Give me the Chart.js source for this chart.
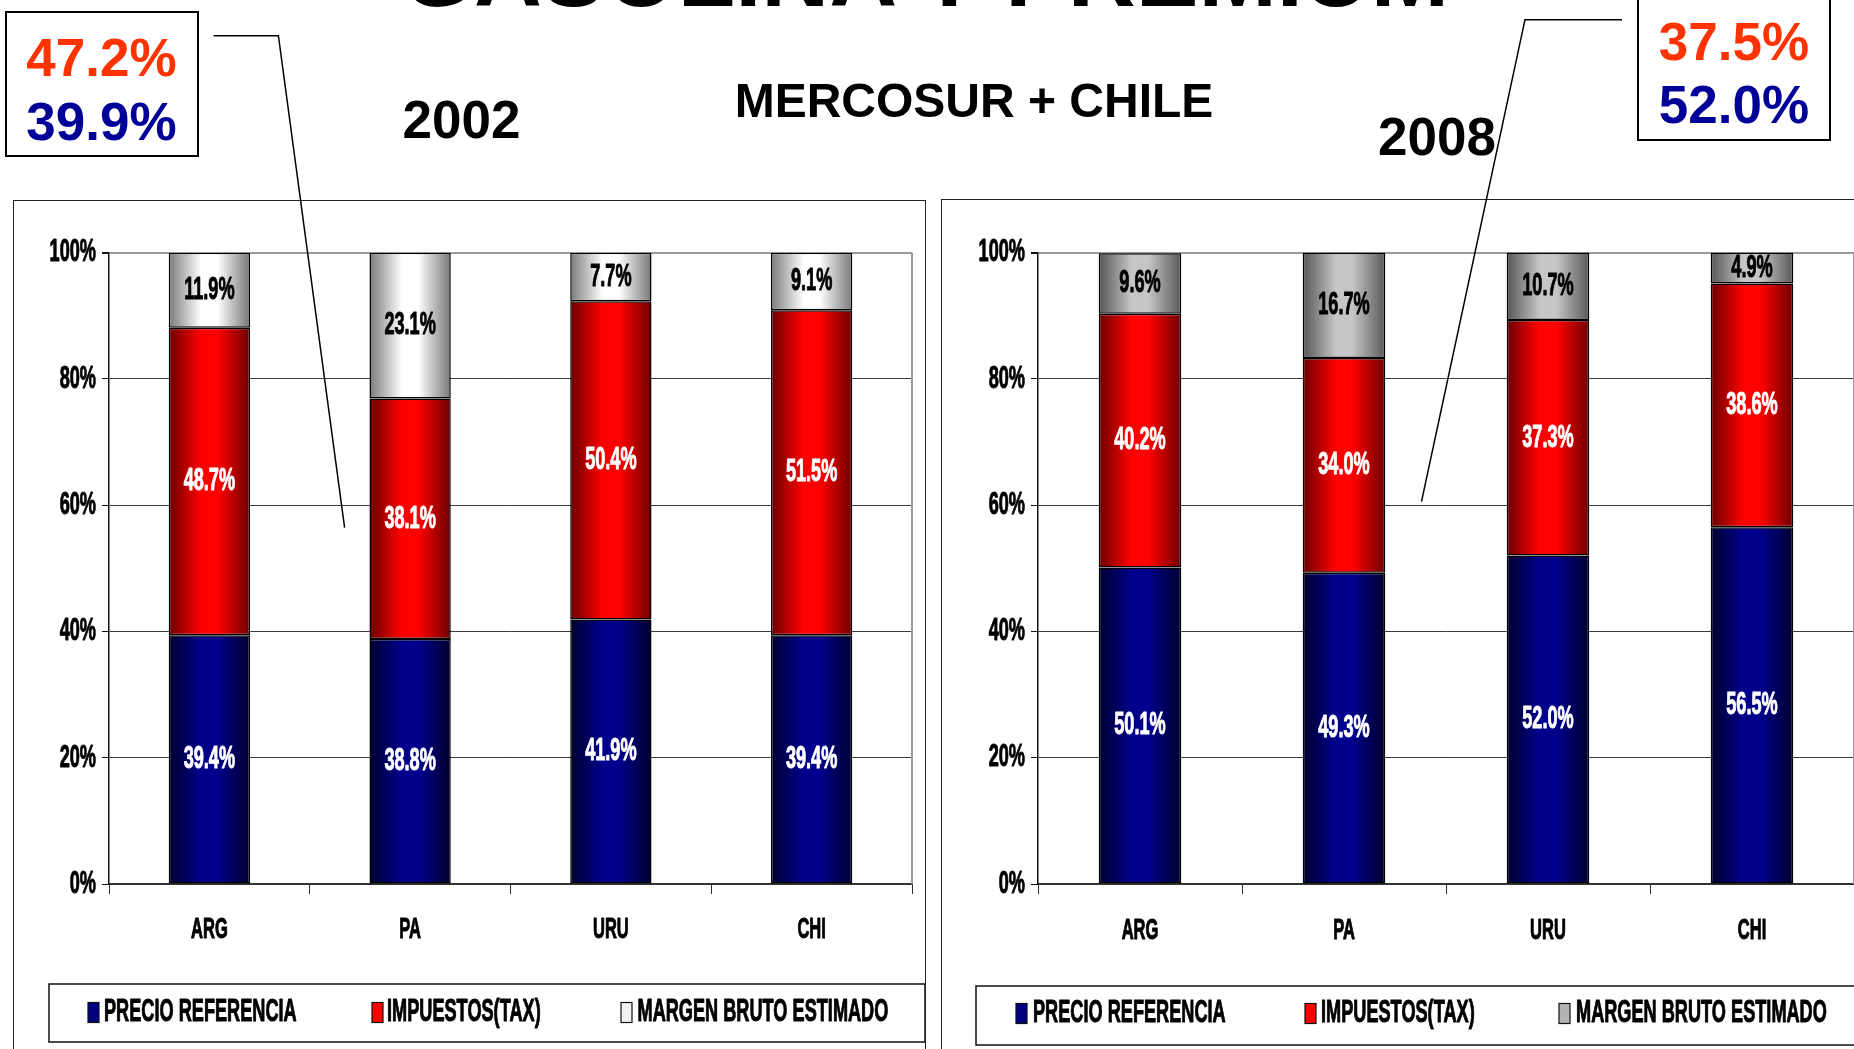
<!DOCTYPE html>
<html lang="es">
<head>
<meta charset="utf-8">
<title>Gasolina premium - Mercosur + Chile</title>
<script src="https://cdn.jsdelivr.net/npm/chart.js@4.4.1/dist/chart.umd.min.js"></script>
<style>
  html, body { margin: 0; padding: 0; background: #fff; }
  body { width: 1854px; height: 1049px; position: relative; overflow: hidden; }
  .frame { position: absolute; border: 1.5px solid #222; box-sizing: border-box; }
  canvas { position: absolute; }
  #overlay { position: absolute; left: 0; top: 0; pointer-events: none; }
  #overlay text { font-family: "Liberation Sans", Arial, sans-serif; font-weight: bold; }
</style>
</head>
<body>
<div class="frame" style="left:13px; top:200px; width:913px; height:900px;"></div>
<div class="frame" style="left:941px; top:199px; width:960px; height:900px;"></div>
<canvas id="chart2002"></canvas>
<canvas id="chart2008"></canvas>

<svg id="overlay" width="1854" height="1049">
  <text x="925" y="6" font-size="94" text-anchor="middle">GASOLINA Y PREMIUM</text>
  <text x="974" y="116.7" font-size="48" text-anchor="middle">MERCOSUR + CHILE</text>
  <text id="year2002" x="461.5" y="138.3" font-size="53" text-anchor="middle"></text>
  <text id="year2008" x="1437" y="155" font-size="53" text-anchor="middle"></text>

  <rect x="6" y="12" width="192" height="144" fill="#fff" stroke="#000" stroke-width="2"/>
  <text id="tax2002" x="101.5" y="76" font-size="53" fill="#ff3300" text-anchor="middle"></text>
  <text id="price2002" x="101.5" y="140" font-size="53" fill="#000099" text-anchor="middle"></text>
  <polyline points="213.6,35.7 278.4,35.7 344.6,527.7" fill="none" stroke="#000" stroke-width="1.5"/>

  <rect x="1638" y="-6" width="192" height="146" fill="#fff" stroke="#000" stroke-width="2"/>
  <text id="tax2008" x="1734" y="60" font-size="53" fill="#ff3300" text-anchor="middle"></text>
  <text id="price2008" x="1734" y="123.3" font-size="53" fill="#000099" text-anchor="middle"></text>
  <polyline points="1622,19.7 1525,19.7 1421.5,501.7" fill="none" stroke="#000" stroke-width="1.5"/>
</svg>

<script>
// categories and series
const countries = ['ARG', 'PA', 'URU', 'CHI'];
const seriesNames = ['PRECIO REFERENCIA', 'IMPUESTOS(TAX)', 'MARGEN BRUTO ESTIMADO'];
const years = ['2002', '2008'];

const precio2002 = [39.4, 38.8, 41.9, 39.4];
const impuestos2002 = [48.7, 38.1, 50.4, 51.5];
const margen2002 = [11.9, 23.1, 7.7, 9.1];

const precio2008 = [50.1, 49.3, 52.0, 56.5];
const impuestos2008 = [40.2, 34.0, 37.3, 38.6];
const margen2008 = [9.6, 16.7, 10.7, 4.9];

// averages shown in the callout boxes: [impuestos, precio]
const promedio2002 = [47.2, 39.9];
const promedio2008 = [37.5, 52.0];

const BAR_PCT = 0.405;
const NARROW = '"Liberation Sans Narrow", "Arial Narrow", "Liberation Sans", Arial, sans-serif';
const SY = 1.45; // chart lettering is tall and narrow

const pct = v => v.toFixed(1) + '%';
document.getElementById('year2002').textContent = years[0];
document.getElementById('year2008').textContent = years[1];
document.getElementById('tax2002').textContent = pct(promedio2002[0]);
document.getElementById('price2002').textContent = pct(promedio2002[1]);
document.getElementById('tax2008').textContent = pct(promedio2008[0]);
document.getElementById('price2008').textContent = pct(promedio2008[1]);

// horizontal squeeze so the lettering keeps the narrow width whatever face is found
const probe = document.createElement('canvas').getContext('2d');
probe.font = 'bold 22px ' + NARROW;
const SX = 192.7 / probe.measureText(seriesNames[0]).width;

const shades = {
  precio: ['#00002c', '#00008c', '#00002e'],
  impuestos: ['#6a0000', '#ff0000', '#6c0000'],
  margen2002: ['#7a7a7a', '#ffffff', '#767676'],
  margen2008: ['#555555', '#c6c6c6', '#585858']
};

function barShade(stops) {
  return function (c) {
    const xs = c.chart.scales.x;
    if (c.type !== 'data' || !xs || !xs.width) return stops[1];
    const cx = xs.getPixelForValue(c.dataIndex);
    const half = xs.width / countries.length * BAR_PCT / 2;
    if (!isFinite(cx) || !isFinite(half)) return stops[1];
    const g = c.chart.ctx.createLinearGradient(cx - half, 0, cx + half, 0);
    g.addColorStop(0, stops[0]);
    g.addColorStop(0.4, stops[1]);
    g.addColorStop(0.6, stops[1]);
    g.addColorStop(1, stops[2]);
    return g;
  };
}

function tallText(ctx, str, x, y, size, color, align) {
  ctx.save();
  ctx.font = 'bold ' + size + 'px ' + NARROW;
  ctx.fillStyle = color;
  ctx.strokeStyle = color;
  ctx.lineWidth = 0.7;
  ctx.lineJoin = 'round';
  ctx.textAlign = align || 'center';
  ctx.textBaseline = 'middle';
  ctx.translate(x, y);
  ctx.scale(SX, SY);
  ctx.fillText(str, 0, 0);
  ctx.strokeText(str, 0, 0);
  ctx.restore();
}

// axis labels, value labels and legend, drawn with the stretched lettering
function slideText(spec) {
  const f = spec.frame;
  return {
    id: 'slideText',
    beforeDatasetsDraw(chart) {
      const {ctx, chartArea: a} = chart;
      ctx.save();
      ctx.strokeStyle = '#9a9a9a';
      ctx.lineWidth = 2;
      ctx.beginPath();
      ctx.moveTo(a.right, a.top);
      ctx.lineTo(a.right, a.bottom);
      ctx.stroke();
      ctx.restore();
    },
    afterDraw(chart) {
      const {ctx, chartArea: a, scales} = chart;
      scales.y.ticks.forEach(t => {
        tallText(ctx, t.value + '%', a.left - 13, scales.y.getPixelForValue(t.value), 22, '#000', 'right');
      });
      countries.forEach((c, i) => {
        tallText(ctx, c, scales.x.getPixelForValue(i), spec.labelY - f.top, 20, '#000');
      });
      chart.data.datasets.forEach((ds, di) => {
        chart.getDatasetMeta(di).data.forEach((el, i) => {
          const color = di === 2 ? '#000' : '#fff';
          tallText(ctx, pct(ds.data[i]), el.x, (el.y + el.base) / 2, 22, color);
        });
      });

      const lg = spec.legend;
      ctx.save();
      ctx.strokeStyle = '#111';
      ctx.lineWidth = 1.5;
      ctx.strokeRect(lg.box[0] - f.left, lg.box[1] - f.top, lg.box[2] - lg.box[0], lg.box[3] - lg.box[1]);
      lg.items.forEach((it, i) => {
        const mx = it[0] - f.left, my = lg.y - 10 - f.top;
        ctx.fillStyle = spec.markers[i];
        ctx.fillRect(mx, my, 11, 20);
        ctx.lineWidth = 1.2;
        ctx.strokeStyle = '#111';
        ctx.strokeRect(mx, my, 11, 20);
        tallText(ctx, seriesNames[i], it[1] - f.left, lg.y - f.top, 22, '#000', 'left');
      });
      ctx.restore();
    }
  };
}

function buildChart(spec) {
  const f = spec.frame, a = spec.area;
  const canvas = document.getElementById(spec.id);
  canvas.width = f.width;
  canvas.height = f.height;
  canvas.style.left = f.left + 'px';
  canvas.style.top = f.top + 'px';

  const barStyle = {
    barPercentage: BAR_PCT,
    categoryPercentage: 1,
    borderColor: '#000',
    borderWidth: 1.5,
    borderSkipped: false
  };

  return new Chart(canvas, {
    type: 'bar',
    data: {
      labels: countries,
      datasets: [
        Object.assign({label: seriesNames[0], data: spec.series[0], backgroundColor: barShade(shades.precio)}, barStyle),
        Object.assign({label: seriesNames[1], data: spec.series[1], backgroundColor: barShade(shades.impuestos)}, barStyle),
        Object.assign({label: seriesNames[2], data: spec.series[2], backgroundColor: barShade(spec.margenShade)}, barStyle)
      ]
    },
    options: {
      responsive: false,
      animation: false,
      devicePixelRatio: 1,
      layout: {padding: {top: a.t - f.top, right: f.left + f.width - a.r, left: 0, bottom: 0}},
      plugins: {legend: {display: false}, tooltip: {enabled: false}},
      scales: {
        x: {
          stacked: true,
          offset: true,
          ticks: {display: false},
          grid: {display: true, offset: true, drawOnChartArea: false, drawTicks: true, tickLength: 10, color: '#333', lineWidth: 1},
          border: {display: true, color: '#333', width: 2},
          afterFit: s => { s.height = f.top + f.height - a.b; }
        },
        y: {
          stacked: true,
          min: 0,
          max: 100,
          ticks: {display: false, stepSize: 20},
          grid: {
            color: c => c.tick && c.tick.value === 100 ? '#9a9a9a' : '#3c3c3c',
            lineWidth: c => c.tick && c.tick.value === 100 ? 2 : 1,
            tickColor: '#111',
            tickLength: 7
          },
          border: {display: true, color: '#111', width: 1.5},
          afterFit: s => { s.width = a.l - f.left; }
        }
      }
    },
    plugins: [slideText(spec)]
  });
}

buildChart({
  id: 'chart2002',
  frame: {left: 14, top: 201, width: 911, height: 848},
  area: {l: 109, r: 912, t: 252.7, b: 884},
  labelY: 930,
  series: [precio2002, impuestos2002, margen2002],
  margenShade: shades.margen2002,
  markers: ['#000080', '#ff0000', '#f2f2f2'],
  legend: {box: [49, 984, 925, 1042], y: 1012.5, items: [[88, 104], [372, 387], [621, 637.5]]}
});

buildChart({
  id: 'chart2008',
  frame: {left: 942, top: 200, width: 912, height: 849},
  area: {l: 1038, r: 1854, t: 252.5, b: 884},
  labelY: 931,
  series: [precio2008, impuestos2008, margen2008],
  margenShade: shades.margen2008,
  markers: ['#000080', '#ff0000', '#b4b4b4'],
  legend: {box: [976, 986, 1900, 1045], y: 1013.5, items: [[1016, 1033], [1305, 1321], [1559, 1576]]}
});
</script>
</body>
</html>
